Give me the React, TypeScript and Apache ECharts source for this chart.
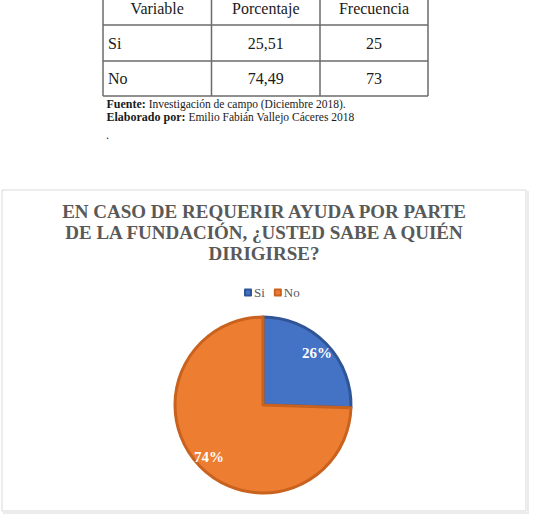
import React, { useEffect, useRef } from "react";
import * as echarts from "echarts";

const tableHeader = ["Variable", "Porcentaje", "Frecuencia"];
const categories = ["Si", "No"];
const percentages = ["25,51", "74,49"];
const frequencies = [25, 73];
const sourceLabel = "Fuente:";
const sourceText = " Investigación de campo (Diciembre 2018).";
const authorLabel = "Elaborado por:";
const authorText = " Emilio Fabián Vallejo Cáceres 2018";
const chartTitle =
  "EN CASO DE REQUERIR AYUDA POR PARTE\nDE LA FUNDACIÓN, ¿USTED SABE A QUIÉN\nDIRIGIRSE?";
const sliceColors = ["#4472C4", "#ED7D31"];
const sliceBorders = ["#2F5597", "#C8621E"];

const SERIF = "Liberation Serif";

export default function App() {
  const ref = useRef<HTMLDivElement>(null);
  useEffect(() => {
    document.body.style.margin = "0";
    if (!ref.current) return;
    const chart = echarts.init(ref.current, undefined, { renderer: "svg" });

    const colX = [103, 211.5, 320, 428];
    const rowY = [25, 61, 96];
    const textRowY = [8, 43, 78];
    const lineStyle = { stroke: "#6b6b6b", lineWidth: 1.5 };
    const graphics: any[] = [];
    graphics.push({
      type: "rect",
      z: -10,
      shape: { x: 2, y: 190, width: 524, height: 321 },
      style: { fill: "#ffffff", stroke: "#d9d9d9", lineWidth: 1 },
    });
    graphics.push({
      type: "polyline",
      z: -11,
      shape: { points: [[528, 191], [528, 513], [3, 513]] },
      style: { fill: "none", stroke: "#ececec", lineWidth: 2 },
    });
    colX.forEach((x) =>
      graphics.push({ type: "line", shape: { x1: x, y1: -5, x2: x, y2: rowY[2] }, style: lineStyle })
    );
    rowY.forEach((y) =>
      graphics.push({ type: "line", shape: { x1: colX[0], y1: y, x2: colX[3], y2: y }, style: lineStyle })
    );
    const cellCenter = (c: number) => (colX[c] + colX[c + 1]) / 2;
    const textBase = { fontFamily: SERIF, fontSize: 16, fill: "#1a1a1a", verticalAlign: "middle" };
    tableHeader.forEach((h, c) =>
      graphics.push({
        type: "text",
        style: { ...textBase, text: h, x: cellCenter(c), y: textRowY[0], align: "center" },
      })
    );
    categories.forEach((cat, r) => {
      graphics.push({
        type: "text",
        style: { ...textBase, text: cat, x: colX[0] + 5, y: textRowY[r + 1], align: "left" },
      });
      graphics.push({
        type: "text",
        style: { ...textBase, text: percentages[r], x: cellCenter(1), y: textRowY[r + 1], align: "center" },
      });
      graphics.push({
        type: "text",
        style: { ...textBase, text: String(frequencies[r]), x: cellCenter(2), y: textRowY[r + 1], align: "center" },
      });
    });
    const noteRich = {
      b: { fontFamily: SERIF, fontSize: 12, fontWeight: "bold", fill: "#1a1a1a" },
      n: { fontFamily: SERIF, fontSize: 11.5, fill: "#1a1a1a" },
    };
    graphics.push({
      type: "text",
      style: {
        text: `{b|${sourceLabel}}{n|${sourceText}}`,
        rich: noteRich,
        x: 106.5,
        y: 104,
        verticalAlign: "middle",
      },
    });
    graphics.push({
      type: "text",
      style: {
        text: `{b|${authorLabel}}{n|${authorText}}`,
        rich: noteRich,
        x: 106.5,
        y: 117,
        verticalAlign: "middle",
      },
    });
    graphics.push({
      type: "text",
      style: { text: ".", x: 106, y: 135, fontFamily: SERIF, fontSize: 12, fill: "#1a1a1a", verticalAlign: "middle" },
    });

    const pieData = categories.map((c, i) => ({
      name: c,
      value: frequencies[i],
      itemStyle: { color: sliceColors[i], borderColor: sliceBorders[i], borderWidth: 3 },
    }));
    const labelData = categories.map((c, i) => ({ name: c, value: frequencies[i] }));

    chart.setOption({
      animation: false,
      color: sliceColors,
      title: {
        text: chartTitle,
        left: 264,
        textAlign: "center",
        top: 201,
        padding: 0,
        textStyle: {
          fontFamily: SERIF,
          fontSize: 19,
          fontWeight: "bold",
          color: "#595959",
          lineHeight: 21,
        },
      },
      legend: {
        data: categories,
        left: 239,
        top: 281,
        icon: "rect",
        itemWidth: 6,
        itemHeight: 6,
        itemGap: 9,
        textStyle: { fontFamily: SERIF, fontSize: 13, color: "#595959", padding: [0, 0, 0, -2] },
      },
      graphic: graphics,
      series: [
        {
          type: "pie",
          center: [263, 405],
          radius: 88,
          startAngle: 90,
          clockwise: true,
          label: { show: false },
          labelLine: { show: false },
          emphasis: { disabled: true },
          data: pieData,
        },
        {
          type: "pie",
          center: [263, 405],
          radius: [56, 88],
          startAngle: 90,
          clockwise: true,
          silent: true,
          itemStyle: { color: "rgba(0,0,0,0)" },
          label: {
            show: true,
            position: "inside",
            formatter: (p: any) => Math.round(p.percent) + "%",
            fontFamily: SERIF,
            fontSize: 15,
            fontWeight: "bold",
            color: "#ffffff",
          },
          labelLine: { show: false },
          emphasis: { disabled: true },
          data: labelData,
        },
      ],
    });
    return () => chart.dispose();
  }, []);
  return <div ref={ref} style={{ width: 534, height: 517 }} />;
}
